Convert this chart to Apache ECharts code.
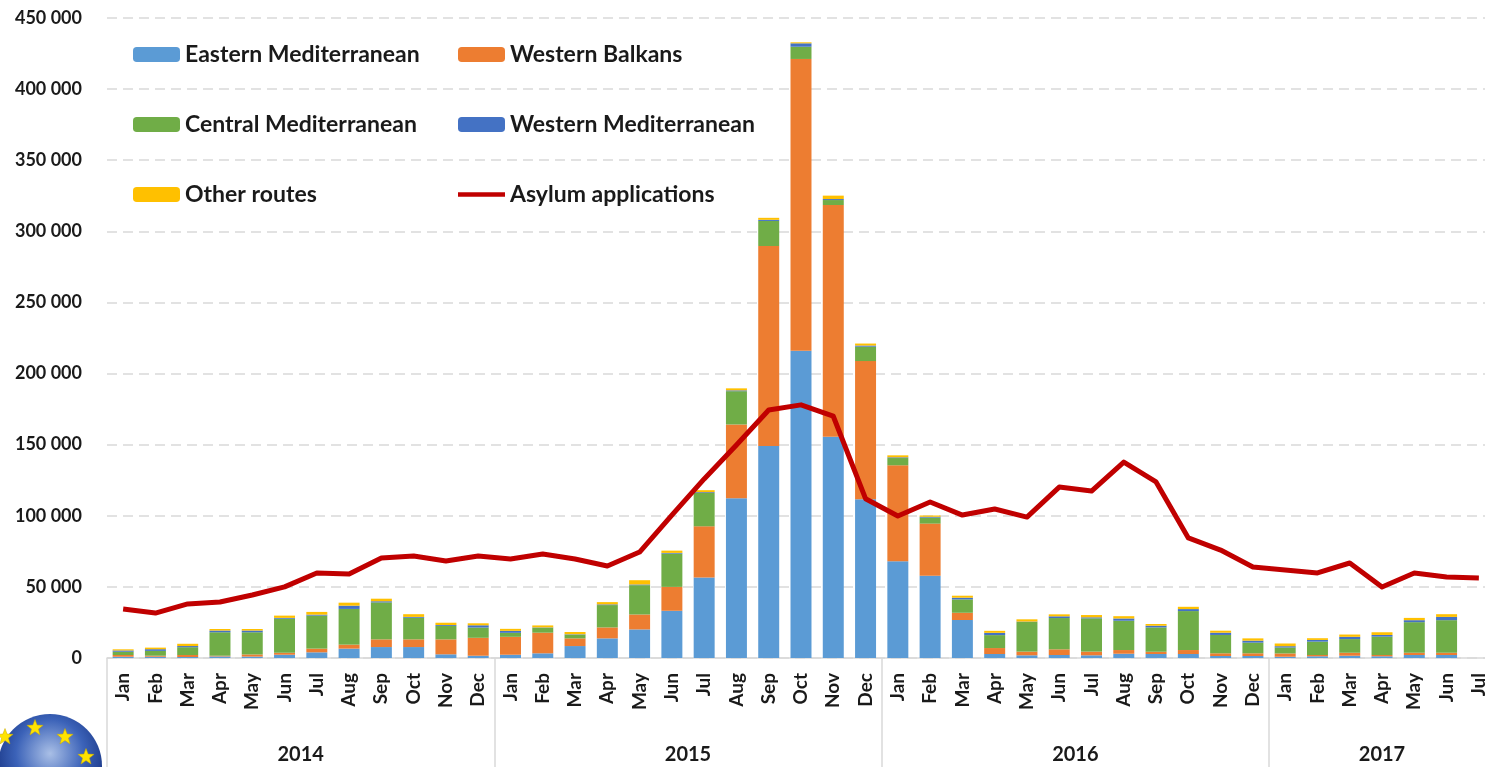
<!DOCTYPE html>
<html>
<head>
<meta charset="utf-8">
<script src="https://cdn.jsdelivr.net/npm/echarts@6/dist/echarts.min.js"></script>
<style>
html,body{margin:0;padding:0;background:#fff;}
#chart{width:1485px;height:767px;}
</style>
</head>
<body>
<div id="chart"></div>
<script>
// ---- data ----
const months = ['Jan','Feb','Mar','Apr','May','Jun','Jul','Aug','Sep','Oct','Nov','Dec',
  'Jan','Feb','Mar','Apr','May','Jun','Jul','Aug','Sep','Oct','Nov','Dec',
  'Jan','Feb','Mar','Apr','May','Jun','Jul','Aug','Sep','Oct','Nov','Dec',
  'Jan','Feb','Mar','Apr','May','Jun','Jul'];
const years = ['2014','2015','2016','2017'];
const yearStarts = [0, 12, 24, 36, 43];
const yearCenters = [6, 18, 30, 39.5];

const easternMed = [900,900,700,1100,1000,2300,4000,6600,7700,7700,2600,1600,
  2300,3300,8400,13800,20100,33200,56600,112300,149100,216100,155600,111600,
  68100,57800,26700,2800,1900,2100,1900,3000,2800,2800,1400,1400,
  900,1200,1600,1200,2100,2100,null];
const westernBalkans = [1200,700,1400,500,1500,1400,2600,2800,5400,5400,10500,12600,
  12600,14500,5400,7700,10500,16800,36000,51900,140600,205100,162900,97200,
  67400,36700,5100,4200,2600,4000,2600,2600,1600,2800,1900,1900,
  2300,900,2100,900,1600,1600,null];
const centralMed = [2300,3400,5500,16500,15600,23900,23200,25100,26000,15200,9500,7200,
  2800,3400,2600,15700,20600,23400,23400,23400,17600,8600,3500,10100,
  5100,4200,9400,9100,20800,22000,23400,20600,17100,27400,12900,7500,
  4200,9400,9600,12900,21500,22900,null];
const westernMed = [900,1200,800,1200,1200,600,700,2300,800,600,600,1600,
  1400,300,300,500,500,500,600,600,800,2400,700,800,
  500,600,1200,1600,300,1200,700,1600,1200,1400,1600,1400,
  900,1200,1600,1200,1400,2300,null];
const otherRoutes = [800,1100,1600,1100,1100,1600,1900,2100,1800,1900,1600,1400,
  1400,1400,1600,1600,3000,1600,1400,1400,1400,700,2400,1400,
  1400,900,1400,1400,1600,1400,1600,1600,1200,1600,1400,1600,
  1900,1200,1600,1900,1600,1900,null];
const asylum = [34500,31600,38000,39400,44300,50000,59800,59000,70300,71700,68200,71700,
  69600,73100,69600,64700,74500,100500,125900,149800,174400,178000,170000,112000,
  99800,109700,100500,104800,99100,120200,117400,137800,123800,84400,75900,64000,
  61900,59800,66800,49900,59800,57000,56300];

// ---- chart ----
const FONT = 'Lato, "Liberation Sans", sans-serif';
const TXT = '#1a1a1a';
const chart = echarts.init(document.getElementById('chart'), null, {renderer: 'canvas'});

function starPoints(cx, cy, R, r) {
  const pts = [];
  for (let i = 0; i < 10; i++) {
    const a = -Math.PI / 2 + i * Math.PI / 5;
    const rad = i % 2 === 0 ? R : r;
    pts.push([cx + rad * Math.cos(a), cy + rad * Math.sin(a)]);
  }
  return pts;
}
const starPos = [[5,737],[35,728],[65,737],[86,757]];

const barBase = {type: 'bar', stack: 'routes', barCategoryGap: '35%', xAxisIndex: 0, yAxisIndex: 0};
const legendText = {fontFamily: FONT, fontWeight: 'bold', fontSize: 23, color: TXT};

chart.setOption({
  animation: false,
  backgroundColor: '#ffffff',
  grid: {left: 107, width: 1388, top: 18, bottom: 109, containLabel: false, outerBoundsMode: 'none'},
  legend: [
    {
      orient: 'vertical', left: 133, top: 43, padding: 0, itemWidth: 47, itemHeight: 15, itemGap: 47,
      textStyle: legendText,
      data: ['Eastern Mediterranean', 'Central Mediterranean', 'Other routes']
    },
    {
      orient: 'vertical', left: 458, top: 43, padding: 0, itemWidth: 47, itemHeight: 15, itemGap: 47,
      textStyle: legendText,
      data: ['Western Balkans', 'Western Mediterranean',
        {name: 'Asylum applications', icon: 'path://M0,0H100V10H0Z'}]
    }
  ],
  xAxis: [
    {
      type: 'category', data: months, position: 'bottom',
      axisLine: {show: true, lineStyle: {color: '#d9d9d9', width: 1.5}},
      axisTick: {show: false},
      axisLabel: {rotate: 90, interval: 0, margin: 15, fontFamily: FONT, fontWeight: 'bold', fontSize: 19, color: TXT},
      splitLine: {show: false}
    },
    {
      type: 'value', min: 0, max: 43, position: 'bottom',
      axisLine: {show: false},
      splitLine: {show: false},
      axisTick: {show: true, customValues: yearStarts, length: 110, lineStyle: {color: '#d9d9d9', width: 1.5}},
      axisLabel: {
        customValues: yearCenters, margin: 87, fontFamily: FONT, fontWeight: 'bold', fontSize: 20, color: TXT,
        formatter: function (v) { const i = yearCenters.indexOf(v); return i >= 0 ? years[i] : ''; }
      }
    }
  ],
  yAxis: {
    type: 'value', min: 0, max: 450000, interval: 50000,
    axisLine: {show: false}, axisTick: {show: false},
    splitLine: {show: true, lineStyle: {color: '#d9d9d9', width: 1.5, type: [10, 6]}},
    axisLabel: {
      margin: 25, fontFamily: FONT, fontWeight: 'bold', fontSize: 18, color: TXT,
      formatter: function (v) { return String(v).replace(/\B(?=(\d{3})+(?!\d))/g, ' '); }
    }
  },
  series: [
    Object.assign({name: 'Eastern Mediterranean', data: easternMed, itemStyle: {color: '#5B9BD5'}}, barBase),
    Object.assign({name: 'Western Balkans', data: westernBalkans, itemStyle: {color: '#ED7D31'}}, barBase),
    Object.assign({name: 'Central Mediterranean', data: centralMed, itemStyle: {color: '#70AD47'}}, barBase),
    Object.assign({name: 'Western Mediterranean', data: westernMed, itemStyle: {color: '#4472C4'}}, barBase),
    Object.assign({name: 'Other routes', data: otherRoutes, itemStyle: {color: '#FFC000'}}, barBase),
    {
      name: 'Asylum applications', type: 'line', data: asylum, xAxisIndex: 0, yAxisIndex: 0,
      symbol: 'none', z: 5,
      lineStyle: {color: '#C00000', width: 5, join: 'round'},
      itemStyle: {color: '#C00000'}
    }
  ],
  graphic: [
    {
      type: 'circle', shape: {cx: 50, cy: 766, r: 52}, z: 10,
      style: {
        fill: {
          type: 'radial', x: 0.5, y: 0.38, r: 0.6,
          colorStops: [{offset: 0, color: '#a9bfe6'}, {offset: 0.55, color: '#3b62b8'}, {offset: 1, color: '#15307e'}]
        }
      }
    }
  ].concat(starPos.map(p => ({
    type: 'polygon', z: 11,
    shape: {points: starPoints(p[0], p[1], 8.5, 3.6)},
    style: {fill: '#FFE300', stroke: '#c9a800', lineWidth: 0.5}
  })))
});
</script>
</body>
</html>
